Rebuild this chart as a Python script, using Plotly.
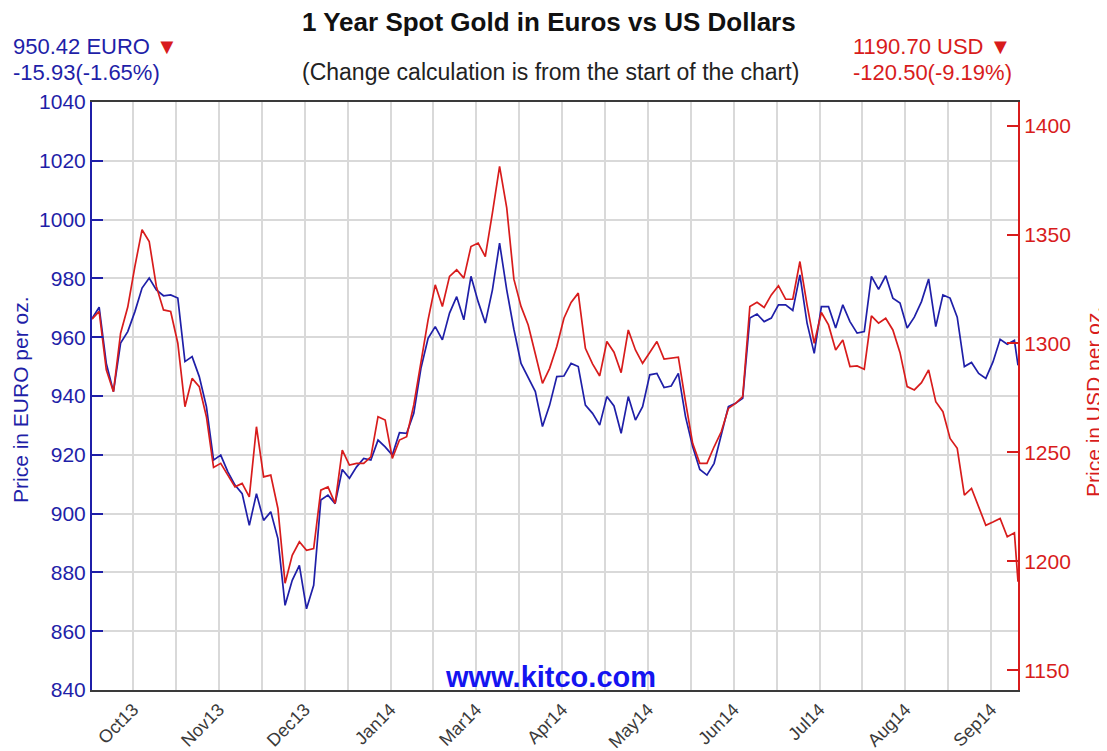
import plotly.graph_objects as go

# ---------------- data ----------------
eur_values = [
    966.35, 970.2, 951.1, 941.5, 958.0, 961.9, 968.7, 976.7, 980.1, 976.1,
    974.1, 974.4, 973.3, 951.7, 953.4, 946.6, 936.4, 918.2, 919.9, 914.2,
    909.7, 906.8, 896.0, 906.8, 897.7, 900.6, 891.5, 868.8, 877.3, 882.4,
    867.6, 875.6, 904.6, 906.3, 903.4, 915.0, 912.0, 915.9, 918.8, 918.2,
    925.0, 922.7, 919.9, 927.5,
    927.3, 934.1, 949.4, 959.6, 963.6, 959.1, 968.2, 973.8, 965.9, 980.7,
    972.1, 964.8, 976.1, 992.0, 976.1, 962.7, 951.1, 946.0, 941.5, 929.6,
    936.9, 946.6, 946.8, 951.1, 950.0, 936.9, 934.1, 930.1, 939.8, 936.6,
    927.3, 939.8, 931.8, 936.4, 947.2, 947.7, 942.9, 943.4, 947.7, 933.0,
    922.8, 915.0, 913.1, 917.1,
    926.7, 936.4, 937.5, 939.2, 966.5, 967.9, 965.3, 966.5, 971.0, 971.0,
    969.1, 981.2, 964.8, 954.5, 970.4, 970.4, 963.1, 971.0, 965.3, 961.4,
    961.9, 980.7, 976.3, 980.9, 973.3, 971.6, 963.1, 966.8, 972.1, 979.8,
    963.6, 974.4, 973.3, 966.8, 950.0, 951.4, 947.7, 946.0, 951.6, 959.3,
    957.6, 958.9, 950.42,
]
usd_values = [
    1311.2, 1314.7, 1287.9, 1277.9, 1304.7, 1316.7, 1335.4, 1352.2, 1346.8, 1326.2,
    1315.4, 1314.7, 1300.1, 1271.0, 1284.0, 1280.2, 1266.4, 1243.1, 1245.0, 1239.6,
    1234.2, 1235.8, 1229.6, 1261.8, 1238.8, 1239.6, 1224.3, 1190.0, 1202.8, 1209.0,
    1205.1, 1205.9, 1232.7, 1234.2, 1226.6, 1251.1, 1244.2, 1245.0, 1245.0, 1248.0,
    1266.4, 1264.9, 1247.3, 1255.7,
    1257.2, 1271.8, 1291.2, 1310.8, 1326.9, 1317.0, 1330.8, 1333.8, 1330.0, 1344.5,
    1346.1, 1339.9, 1359.9, 1381.3, 1362.2, 1329.5, 1317.0, 1308.5, 1295.2, 1281.7,
    1288.6, 1298.6, 1311.6, 1318.8, 1323.1, 1297.8, 1290.6, 1285.1, 1300.9, 1296.0,
    1286.6, 1306.2, 1297.0, 1290.9, 1295.9, 1300.9, 1292.8, 1293.2, 1293.7, 1273.3,
    1254.2, 1245.0, 1245.0, 1252.6,
    1259.5, 1270.2, 1272.5, 1275.6, 1317.0, 1318.9, 1316.5, 1322.3, 1326.5, 1320.3,
    1320.3, 1337.6, 1317.7, 1300.1, 1314.2, 1308.5, 1297.0, 1301.6, 1289.4, 1289.7,
    1288.2, 1312.7, 1309.3, 1311.6, 1306.2, 1295.8, 1280.2, 1278.7, 1282.0, 1287.9,
    1273.3, 1268.7, 1256.4, 1251.9, 1230.4, 1233.5, 1224.7, 1216.6, 1218.1, 1219.7,
    1211.3, 1213.1, 1190.70,
]
# trading-day index of each sample (every 2nd trading day, plus the last day)
days = list(range(0, 2 * (len(eur_values) - 1), 2)) + [259]

tick_labels = ["Oct13", "Nov13", "Dec13", "Jan14", "Mar14", "Apr14",
               "May14", "Jun14", "Jul14", "Aug14", "Sep14"]
first_grid_day = 11.5
grid_step_days = 12
n_grids = 2 * len(tick_labels) - 1

eur_last, eur_change, eur_pct = "950.42", "-15.93", "-1.65%"
usd_last, usd_change, usd_pct = "1190.70", "-120.50", "-9.19%"

# ---------------- styling ----------------
BLUE = "#1f1fa8"
RED = "#d81c1c"
GRID = "#d9d9d9"
FONT = "Liberation Sans, Arial, sans-serif"

grid_vals = [first_grid_day + grid_step_days * k for k in range(n_grids)]
grid_text = [tick_labels[k // 2] if k % 2 == 0 else "" for k in range(n_grids)]

fig = go.Figure()
fig.add_trace(go.Scatter(x=days, y=usd_values, yaxis="y2", mode="lines",
                         line=dict(color=RED, width=1.7), hoverinfo="skip"))
fig.add_trace(go.Scatter(x=days, y=eur_values, yaxis="y", mode="lines",
                         line=dict(color=BLUE, width=1.7), hoverinfo="skip"))

# the page body adds an 8px offset, so the figure is 8px smaller on each side
fig.update_layout(
    width=1099, height=743,
    margin=dict(l=84, r=89, t=94, b=61),
    paper_bgcolor="white", plot_bgcolor="white",
    showlegend=False,
    font=dict(family=FONT),
    xaxis=dict(range=[0, 259], tickvals=grid_vals, ticktext=grid_text,
               tickangle=-45, showgrid=True, gridcolor=GRID, gridwidth=1.5,
               showline=True, linecolor="#3a3a3a", linewidth=2, mirror=True,
               ticks="", zeroline=False, automargin=False,
               tickfont=dict(size=18, color="#3a3a3a", family=FONT)),
    yaxis=dict(range=[840, 1040], dtick=20, tick0=840, showgrid=True,
               gridcolor=GRID, gridwidth=1.5, zeroline=False, automargin=False,
               showline=True, linecolor=BLUE, linewidth=2,
               ticks="inside", ticklen=11, tickcolor=BLUE, tickwidth=2,
               tickfont=dict(size=21, color=BLUE, family=FONT)),
    yaxis2=dict(range=[1141.0, 1410.8], dtick=50, tick0=1150, overlaying="y",
                side="right", showgrid=False, zeroline=False, automargin=False,
                showline=True, linecolor=RED, linewidth=2,
                ticks="inside", ticklen=11, tickcolor=RED, tickwidth=2,
                tickfont=dict(size=21, color=RED, family=FONT)),
)

def px_x(p):
    return (p - 92) / 926.0

def px_y(p):
    return (689.5 - p) / 587.0

ann = [
    dict(text="<b>1 Year Spot Gold in Euros vs US Dollars</b>", x=px_x(549), y=px_y(23),
         xanchor="center", yanchor="middle", font=dict(size=26, color="#111"), borderpad=0),
    dict(text="(Change calculation is from the start of the chart)", x=px_x(550), y=px_y(73),
         xanchor="center", yanchor="middle", font=dict(size=23, color="#222")),
    dict(text=f"{eur_last} EURO <span style='color:{RED}'>▼</span>", x=px_x(11), y=px_y(47),
         xanchor="left", yanchor="middle", font=dict(size=22, color=BLUE)),
    dict(text=f"{eur_change}({eur_pct})", x=px_x(11), y=px_y(73),
         xanchor="left", yanchor="middle", font=dict(size=22, color=BLUE)),
    dict(text=f"{usd_last} USD ▼", x=px_x(851), y=px_y(47),
         xanchor="left", yanchor="middle", font=dict(size=22, color=RED)),
    dict(text=f"{usd_change}({usd_pct})", x=px_x(851), y=px_y(73),
         xanchor="left", yanchor="middle", font=dict(size=22, color=RED)),
    dict(text="Price in EURO per oz.", x=px_x(20), y=px_y(400), textangle=-90,
         xanchor="center", yanchor="middle", font=dict(size=21, color=BLUE)),
    dict(text="Price in USD per oz.", x=px_x(1093), y=px_y(402), textangle=-90,
         xanchor="center", yanchor="middle", font=dict(size=21, color=RED)),
    dict(text="<b>www.kitco.com</b>", x=px_x(550), y=px_y(677),
         xanchor="center", yanchor="middle", font=dict(size=29, color="#1414f0")),
]
for a in ann:
    a.update(xref="paper", yref="paper", showarrow=False)
fig.update_layout(annotations=ann)

fig.write_html("out.html")
